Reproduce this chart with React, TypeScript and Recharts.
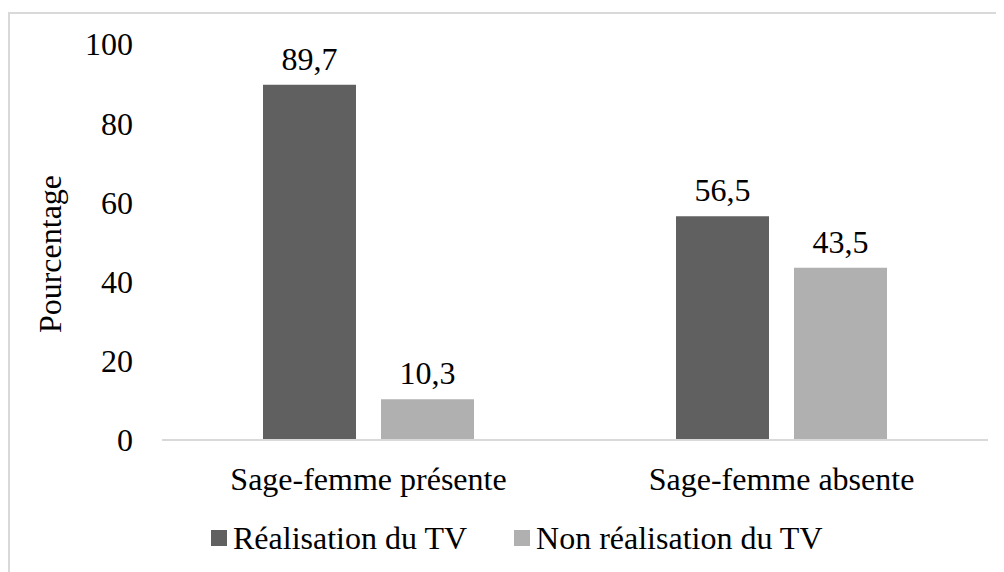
import { BarChart, Bar, XAxis, YAxis, LabelList, Legend } from "recharts";

const categories = ["Sage-femme présente", "Sage-femme absente"];
const realisation = [89.7, 56.5];
const nonRealisation = [10.3, 43.5];
const yTicks = [0, 20, 40, 60, 80, 100];

const SERIES = [
  { key: "realisation", name: "Réalisation du TV", color: "#606060" },
  { key: "nonRealisation", name: "Non réalisation du TV", color: "#b0b0b0" },
];

const data = categories.map((c, i) => ({ cat: c, realisation: realisation[i], nonRealisation: nonRealisation[i] }));

const FONT = '"Liberation Serif", "Times New Roman", serif';
const FS = 32;
const fmt = (v: number) => v.toFixed(1).replace(".", ",");

const LegendBox = () => (
  <div style={{ display: "flex", alignItems: "center", fontFamily: FONT, fontSize: FS, color: "#000", lineHeight: "36px" }}>
    {SERIES.map((s, i) => (
      <div key={s.key} style={{ display: "flex", alignItems: "center", marginRight: i === 0 ? 47 : 0 }}>
        <div style={{ width: 16, height: 16, background: s.color, marginRight: 6 }} />
        <span>{s.name}</span>
      </div>
    ))}
  </div>
);

export default function App() {
  return (
    <div style={{ position: "relative", width: 996, height: 564, overflow: "hidden", background: "#fff" }}>
      <div style={{ position: "absolute", left: 0, top: 4, width: 1100, height: 700, borderTop: "2px solid #d9d9d9", borderLeft: "2px solid #d9d9d9" }} />
      <div style={{ position: "absolute", left: 0, top: 0 }}>
        <BarChart width={1000} height={564} data={data} margin={{ top: 36, right: 20, left: 0, bottom: 72 }} barCategoryGap={101} barGap={25}>
          <XAxis dataKey="cat" axisLine={{ stroke: "#d9d9d9", strokeWidth: 2 }} tickLine={false} tickSize={0} tickMargin={27} height={60}
            tick={{ fill: "#000", fontSize: FS, fontFamily: FONT }} />
          <YAxis domain={[0, 100]} ticks={yTicks} width={154} axisLine={false} tickLine={false} tickSize={0} tickMargin={29}
            tick={{ fill: "#000", fontSize: FS, fontFamily: FONT }}
            label={{ content: () => (
              <text x={42} y={246} transform="rotate(-90 42 246)" textAnchor="middle" dominantBaseline="central" fill="#000" fontSize={FS} fontFamily={FONT}>Pourcentage</text>
            ) }} />
          <Legend layout="horizontal" verticalAlign="middle" align="center" content={<LegendBox />} wrapperStyle={{ top: 512, left: 203, width: "auto" }} />
          {SERIES.map(s => (
            <Bar key={s.key} dataKey={s.key} name={s.name} fill={s.color} isAnimationActive={false}>
              <LabelList dataKey={s.key} position="top" offset={15} formatter={(v: number) => fmt(v)} fill="#000" fontSize={FS} fontFamily={FONT} />
            </Bar>
          ))}
        </BarChart>
      </div>
    </div>
  );
}
